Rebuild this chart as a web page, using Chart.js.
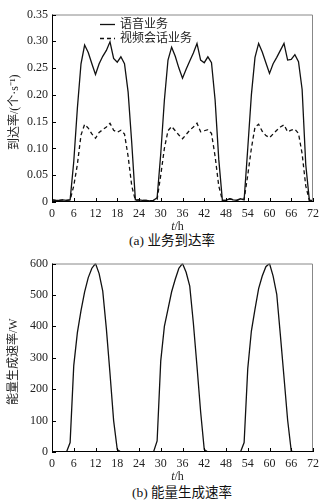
<!DOCTYPE html>
<html>
<head>
<meta charset="utf-8">
<script src="https://cdn.jsdelivr.net/npm/chart.js@4.4.0/dist/chart.umd.min.js"></script>
<style>
  html, body { margin: 0; padding: 0; background: #fff; }
  body { width: 328px; height: 504px; position: relative; overflow: hidden; }
  .box { position: absolute; left: 0; width: 328px; height: 232px; }
  .cap {
    position: absolute; width: 200px; text-align: center;
    font-family: "Liberation Serif", "Times New Roman", "Noto Sans CJK SC", serif;
    font-size: 13.5px; color: #111; line-height: 16px;
  }
</style>
</head>
<body>
<div class="box" style="top:0"><canvas id="rate-chart" width="328" height="232"></canvas></div>
<div class="cap" style="left:72px; top:233px">(a) 业务到达率</div>
<div class="box" style="top:250px"><canvas id="energy-chart" width="328" height="232"></canvas></div>
<div class="cap" style="left:82px; top:485px">(b) 能量生成速率</div>
<script>
// 横轴：时间 t/h
const HOURS = [
  0, 1, 2, 3, 4, 5, 6, 7, 8, 9, 10, 11, 12, 13, 14, 15, 16, 17, 18, 19, 20, 21, 22, 23,
  24, 25, 26, 27, 28, 29, 30, 31, 32, 33, 34, 35, 36, 37, 38, 39, 40, 41, 42, 43, 44, 45, 46, 47,
  48, 49, 50, 51, 52, 53, 54, 55, 56, 57, 58, 59, 60, 61, 62, 63, 64, 65, 66, 67, 68, 69, 70, 71, 72
];
const X_TICKS = [0, 6, 12, 18, 24, 30, 36, 42, 48, 54, 60, 66, 72];

// (a) 业务到达率，个/s
const RATE_LABELS = ["语音业务", "视频会话业务"];
const VOICE = [
  0.004, 0.003, 0.003, 0.004, 0.003, 0.004, 0.075, 0.175, 0.258, 0.293, 0.279, 0.258,
  0.238, 0.258, 0.272, 0.283, 0.299, 0.268, 0.261, 0.271, 0.258, 0.205, 0.11, 0.004,
  0.004, 0.003, 0.003, 0.002, 0.003, 0.008, 0.09, 0.19, 0.265, 0.289, 0.272, 0.25,
  0.231, 0.248, 0.263, 0.278, 0.296, 0.265, 0.26, 0.271, 0.26, 0.19, 0.08, 0.003,
  0.003, 0.006, 0.004, 0.003, 0.006, 0.004, 0.1, 0.2, 0.27, 0.296, 0.28, 0.26,
  0.24, 0.258, 0.27, 0.283, 0.296, 0.265, 0.266, 0.275, 0.262, 0.21, 0.07, 0.003, 0.003
];
const VIDEO = [
  0.004, 0.003, 0.003, 0.004, 0.003, 0.004, 0.03, 0.07, 0.125, 0.145, 0.138, 0.127,
  0.119, 0.13, 0.135, 0.14, 0.147, 0.134, 0.13, 0.134, 0.127, 0.085, 0.03, 0.003,
  0.004, 0.003, 0.003, 0.002, 0.003, 0.005, 0.05, 0.1, 0.133, 0.141, 0.133, 0.125,
  0.118, 0.126, 0.134, 0.14, 0.147, 0.131, 0.133, 0.135, 0.128, 0.085, 0.03, 0.003,
  0.003, 0.006, 0.004, 0.003, 0.006, 0.005, 0.05, 0.1, 0.14, 0.145, 0.132, 0.124,
  0.12, 0.127, 0.134, 0.14, 0.144, 0.131, 0.134, 0.136, 0.128, 0.09, 0.03, 0.003, 0.003
];
const RATE_TICKS = [0, 0.05, 0.10, 0.15, 0.20, 0.25, 0.30, 0.35];

// (b) 能量生成速率，W
const ENERGY = [
  0, 0, 0, 0, 0, 30, 275, 380, 450, 510, 555, 585,
  600, 568, 512, 392, 250, 100, 8, 0, 0, 0, 0, 0,
  0, 0, 0, 0, 0, 35, 290, 400, 455, 510, 550, 585,
  600, 572, 528, 410, 272, 128, 8, 0, 0, 0, 0, 0,
  0, 0, 0, 0, 0, 30, 265, 385, 455, 520, 560, 590,
  600, 560, 502, 372, 238, 102, 3, 0, 0, 0, 0, 0, 0
];
const ENERGY_TICKS = [0, 100, 200, 300, 400, 500, 600];

const FONT = "'Liberation Serif', 'Times New Roman', 'Noto Sans CJK SC', serif";

// 外框、向内刻度和坐标轴标题
const framePlugin = {
  id: "frame",
  afterDraw(chart, args, opts) {
    const { ctx, chartArea: a, scales } = chart;
    ctx.save();
    ctx.lineWidth = 1;
    ctx.strokeStyle = "#888";
    ctx.beginPath();
    ctx.moveTo(a.left, a.top + 0.5);
    ctx.lineTo(a.right - 0.5, a.top + 0.5);
    ctx.lineTo(a.right - 0.5, a.bottom);
    ctx.stroke();
    ctx.strokeStyle = "#000";
    ctx.beginPath();
    ctx.moveTo(a.left + 0.5, a.top);
    ctx.lineTo(a.left + 0.5, a.bottom - 0.5);
    ctx.lineTo(a.right, a.bottom - 0.5);
    ctx.stroke();
    ctx.beginPath();
    scales.x.ticks.forEach(function (t) {
      const px = Math.round(scales.x.getPixelForValue(t.value)) + 0.5;
      ctx.moveTo(px, a.bottom);
      ctx.lineTo(px, a.bottom - 4);
    });
    scales.y.ticks.forEach(function (t) {
      const py = Math.round(scales.y.getPixelForValue(t.value)) + 0.5;
      ctx.moveTo(a.left, py);
      ctx.lineTo(a.left + 4, py);
    });
    ctx.stroke();

    // 横轴标题 t/h（t 为斜体）
    ctx.fillStyle = "#222";
    ctx.textBaseline = "middle";
    const tx = (a.left + a.right) / 2 - 5;
    const ty = a.bottom + 25;
    ctx.font = "italic 12px " + FONT;
    const wT = ctx.measureText("t").width;
    ctx.font = "12px " + FONT;
    const wH = ctx.measureText("/h").width;
    const x0 = tx - (wT + wH) / 2;
    ctx.textAlign = "left";
    ctx.font = "italic 12px " + FONT;
    ctx.fillText("t", x0, ty);
    ctx.font = "12px " + FONT;
    ctx.fillText("/h", x0 + wT, ty);

    // 纵轴标题
    ctx.translate(opts.titleX, (a.top + a.bottom) / 2 + (opts.titleDy || 0));
    ctx.rotate(-Math.PI / 2);
    ctx.textAlign = "center";
    ctx.fillText(opts.yTitle, 0, 0);
    ctx.restore();
  },
};

// 图例画在绘图区左上方
const legendPlugin = {
  id: "innerLegend",
  afterDatasetsDraw(chart) {
    if (chart.data.datasets.length < 2) return;
    const { ctx, chartArea: a } = chart;
    ctx.save();
    ctx.font = "12px " + FONT;
    ctx.textBaseline = "middle";
    chart.data.datasets.forEach(function (ds, i) {
      const y = Math.round(a.top + 9 + i * 14.5) + 0.5;
      const x0 = a.left + 48;
      ctx.strokeStyle = ds.borderColor;
      ctx.lineWidth = 1.3;
      ctx.setLineDash(ds.borderDash || []);
      ctx.beginPath();
      ctx.moveTo(x0, y);
      ctx.lineTo(x0 + 15, y);
      ctx.stroke();
      ctx.setLineDash([]);
      ctx.fillStyle = "#222";
      ctx.fillText(ds.label, x0 + 20, y);
    });
    ctx.restore();
  },
};

function xScale() {
  return {
    type: "linear",
    min: 0,
    max: 72,
    afterBuildTicks: function (s) {
      s.ticks = X_TICKS.map(function (v) { return { value: v }; });
    },
    afterFit: function (s) { s.height = 30; },
    grid: { display: false, drawTicks: false },
    border: { display: false },
    ticks: { color: "#222", padding: 5, maxRotation: 0, font: { family: FONT, size: 12 } },
    title: { display: false },
  };
}

function yScale(max, ticks, fmt) {
  return {
    min: 0,
    max: max,
    afterBuildTicks: function (s) {
      s.ticks = ticks.map(function (v) { return { value: v }; });
    },
    afterFit: function (s) { s.width = 52; },
    grid: { display: false, drawTicks: false },
    border: { display: false },
    ticks: { color: "#222", padding: 4, font: { family: FONT, size: 12 }, callback: fmt },
    title: { display: false },
  };
}

function line(label, data, dash) {
  return {
    label: label,
    data: data,
    borderColor: "#111",
    borderWidth: 1.3,
    borderDash: dash,
    pointRadius: 0,
    tension: 0,
    fill: false,
  };
}

function baseOptions(padTop, y, frame) {
  return {
    responsive: false,
    animation: false,
    layout: { padding: { top: padTop, right: 15, left: 0, bottom: 0 } },
    plugins: { legend: { display: false }, tooltip: { enabled: false }, frame: frame },
    scales: { x: xScale(), y: y },
  };
}

new Chart(document.getElementById("rate-chart"), {
  type: "line",
  data: {
    datasets: [
      line(RATE_LABELS[0], HOURS.map(function (h, i) { return { x: h, y: VOICE[i] }; }), []),
      line(RATE_LABELS[1], HOURS.map(function (h, i) { return { x: h, y: VIDEO[i] }; }), [4, 3]),
    ],
  },
  options: baseOptions(14.5, yScale(0.35, RATE_TICKS, function (v) {
    return v === 0 ? "0" : v.toFixed(2);
  }), { yTitle: "到达率/(个·s⁻¹)", titleX: 15, titleDy: 4 }),
  plugins: [framePlugin, legendPlugin],
});

new Chart(document.getElementById("energy-chart"), {
  type: "line",
  data: {
    datasets: [
      line("能量生成速率", HOURS.map(function (h, i) { return { x: h, y: ENERGY[i] }; }), []),
    ],
  },
  options: baseOptions(13.5, yScale(600, ENERGY_TICKS, function (v) {
    return String(v);
  }), { yTitle: "能量生成速率/W", titleX: 14, titleDy: 4 }),
  plugins: [framePlugin],
});
</script>
</body>
</html>
